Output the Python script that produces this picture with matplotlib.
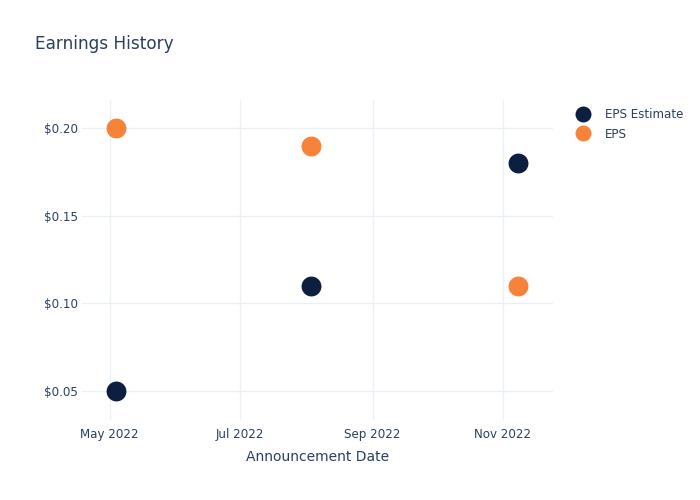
import numpy as np
import matplotlib as mpl
mpl.use("Agg")
import matplotlib.pyplot as plt
from matplotlib.lines import Line2D

# data
dates = np.array(["2022-05-04", "2022-08-03", "2022-11-08"], dtype="datetime64[D]")
eps_estimate = [0.05, 0.11, 0.18]
eps_actual = [0.20, 0.19, 0.11]
tick_dates = np.array(["2022-05-01", "2022-07-01", "2022-09-01", "2022-11-01"], dtype="datetime64[D]")
tick_labels = ["May 2022", "Jul 2022", "Sep 2022", "Nov 2022"]
y_ticks = [0.05, 0.10, 0.15, 0.20]

navy = "#0c1f40"
orange = "#f7823a"
txt = "#2a3f5f"
grid = "#ebf0f8"

plt.rcParams.update({"font.family": "DejaVu Sans"})

fig = plt.figure(figsize=(7, 5), dpi=100)
ax = fig.add_axes([82 / 700, 80 / 500, (553 - 82) / 700, 320 / 500])

ax.scatter(dates, eps_estimate, s=205, color=navy, zorder=3, linewidths=0)
ax.scatter(dates, eps_actual, s=205, color=orange, zorder=3, linewidths=0)

ax.set_xlim(np.datetime64("2022-04-18"), np.datetime64("2022-11-24T12"))
ax.set_ylim(0.0334, 0.2162)
ax.set_xticks(tick_dates)
ax.set_xticklabels(tick_labels)
ax.set_yticks(y_ticks)
ax.set_yticklabels(["$%.2f" % v for v in y_ticks])
ax.tick_params(length=0, labelsize=8.6, labelcolor=txt)
ax.tick_params(axis="x", pad=6)
ax.tick_params(axis="y", pad=3)
for s in ax.spines.values():
    s.set_visible(False)
ax.grid(True, color=grid, lw=1)
ax.set_axisbelow(True)

ax.set_xlabel("Announcement Date", fontsize=10, color=txt, labelpad=6)
fig.text(35 / 700, 1 - 44 / 500, "Earnings History", fontsize=12.2, color=txt,
         ha="left", va="center")

handles = [
    Line2D([], [], ls="", marker="o", ms=11.5, color=navy, mew=0, label="EPS Estimate"),
    Line2D([], [], ls="", marker="o", ms=11.5, color=orange, mew=0, label="EPS"),
]
fig.legend(handles=handles, loc="upper left", bbox_to_anchor=(576 / 700, 1 - 108 / 500),
           frameon=False, fontsize=8.6, labelcolor=txt, handlelength=1.2,
           handletextpad=1.25, labelspacing=0.55, borderaxespad=0, borderpad=0)

fig.savefig("out.png", dpi=100)
